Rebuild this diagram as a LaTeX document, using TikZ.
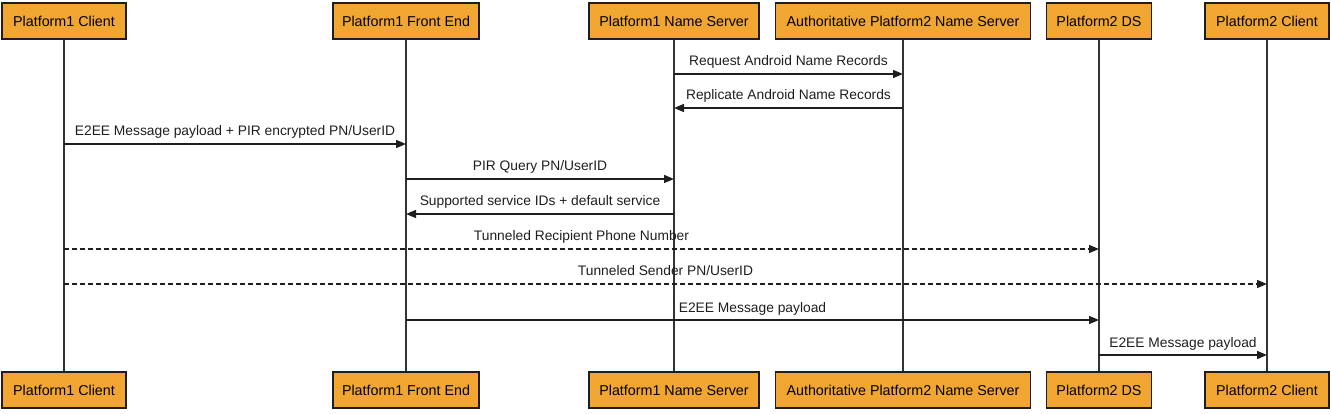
\documentclass[tikz,border=0pt]{standalone}
\usepackage{fontspec}
\setmainfont{Liberation Sans}
\usetikzlibrary{arrows.meta}
\definecolor{boxfill}{HTML}{F2A632}
\definecolor{inkc}{HTML}{1E1E1E}
\begin{document}
\begin{tikzpicture}[x=1pt,y=-1pt,
  actor/.style={draw=inkc,line width=1.6pt,fill=boxfill,minimum height=36pt,inner sep=0pt,text=black,font=\fontsize{14.3}{17}\selectfont},
  life/.style={draw=black!80,line width=1.4pt},
  msg/.style={draw=inkc,line width=1.4pt,-{Triangle[length=10pt,width=8pt]}},
  tun/.style={msg,dash pattern=on 5pt off 3pt},
  lbl/.style={font=\fontsize{13.8}{16}\selectfont,anchor=base,inner sep=0pt,yshift=8pt,text=inkc}]
\useasboundingbox (0,0) rectangle (1331,414);
% top actors
\node[actor,minimum width=124pt] (c1t) at (64,21) {Platform1 Client};
\node[actor,minimum width=146pt] (fet) at (406,21) {Platform1 Front End};
\node[actor,minimum width=170pt] (nst) at (674,21) {Platform1 Name Server};
\node[actor,minimum width=255pt] (ast) at (903,21) {Authoritative Platform2 Name Server};
\node[actor,minimum width=105pt] (dst) at (1099,21) {Platform2 DS};
\node[actor,minimum width=124pt] (c2t) at (1267,21) {Platform2 Client};
% bottom actors
\node[actor,minimum width=124pt] (c1b) at (64,390) {Platform1 Client};
\node[actor,minimum width=146pt] (feb) at (406,390) {Platform1 Front End};
\node[actor,minimum width=170pt] (nsb) at (674,390) {Platform1 Name Server};
\node[actor,minimum width=255pt] (asb) at (903,390) {Authoritative Platform2 Name Server};
\node[actor,minimum width=105pt] (dsb) at (1099,390) {Platform2 DS};
\node[actor,minimum width=124pt] (c2b) at (1267,390) {Platform2 Client};
% lifelines
\draw[life] (c1t.south) -- (c1b.north);
\draw[life] (fet.south) -- (feb.north);
\draw[life] (nst.south) -- (nsb.north);
\draw[life] (ast.south) -- (asb.north);
\draw[life] (dst.south) -- (dsb.north);
\draw[life] (c2t.south) -- (c2b.north);
% rows
\coordinate (r1) at (0,74);
\coordinate (r2) at (0,108);
\coordinate (r3) at (0,144);
\coordinate (r4) at (0,179);
\coordinate (r5) at (0,214);
\coordinate (r6) at (0,249);
\coordinate (r7) at (0,284);
\coordinate (r8) at (0,320);
\coordinate (r9) at (0,355);
% messages
\draw[msg] (nst |- r1) -- node[lbl] (l1) {Request Android Name Records} (ast |- r1);
\draw[msg] (ast |- r2) -- node[lbl] (l2) {Replicate Android Name Records} (nst |- r2);
\draw[msg] (c1t |- r3) -- node[lbl] (l3) {E2EE Message payload + PIR encrypted PN/UserID} (fet |- r3);
\draw[msg] (fet |- r4) -- node[lbl] (l4) {PIR Query PN/UserID} (nst |- r4);
\draw[msg] (nst |- r5) -- node[lbl] (l5) {Supported service IDs + default service} (fet |- r5);
\draw[tun] (c1t |- r6) -- node[lbl] (l6) {Tunneled Recipient Phone Number} (dst |- r6);
\draw[tun] (c1t |- r7) -- node[lbl] (l7) {Tunneled Sender PN/UserID} (c2t |- r7);
\draw[msg] (fet |- r8) -- node[lbl] (l8) {E2EE Message payload} (dst |- r8);
\draw[msg] (dst |- r9) -- node[lbl] (l9) {E2EE Message payload} (c2t |- r9);
\end{tikzpicture}
\end{document}
